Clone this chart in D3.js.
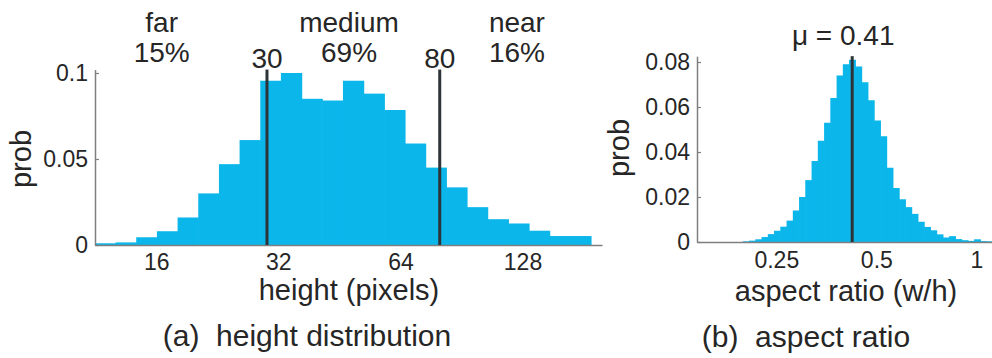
<!DOCTYPE html>
<html>
<head>
<meta charset="utf-8">
<script src="https://cdn.jsdelivr.net/npm/d3@7"></script>
<style>
  html, body { margin: 0; padding: 0; background: #ffffff; }
  svg { display: block; }
  text { font-family: "Liberation Sans", Arial, Helvetica, sans-serif; fill: #262626; }
</style>
</head>
<body>
<svg id="chart" width="992" height="358"></svg>
<script>
// ---------------- data: (a) height distribution ----------------
const heightBinEdges = [11.30, 12.70, 14.28, 16.06, 18.06, 20.31, 22.84, 25.68, 28.88, 32.47,
  36.52, 41.06, 46.18, 51.93, 58.40, 65.67, 73.84, 83.04, 93.38, 105.0,
  118.1, 132.8, 149.3, 167.9, 188.8];
const heightProb = [0.001, 0.0015, 0.0045, 0.008, 0.016, 0.030, 0.047, 0.061, 0.0955, 0.100,
  0.085, 0.084, 0.0955, 0.088, 0.0785, 0.059, 0.045, 0.0335, 0.022, 0.015,
  0.0125, 0.0083, 0.0052, 0.0052];
const heightTicks = [16, 32, 64, 128];
const heightTickLabels = ["16", "32", "64", "128"];
const heightYTicks = [0, 0.05, 0.1];
const heightYTickLabels = ["0", "0.05", "0.1"];
const heightCuts = [30, 80];
const heightCutLabels = ["30", "80"];
const groupNames = ["far", "medium", "near"];
const groupShares = ["15%", "69%", "16%"];
const groupCenters = [16.5, 47.8, 124];   // height value under which each group label sits

// ---------------- data: (b) aspect ratio ----------------
const aspectBinEdges = [0.1982, 0.2070, 0.2161, 0.2257, 0.2357, 0.2461, 0.2570, 0.2684, 0.2803, 0.2927,
  0.3056, 0.3192, 0.3333, 0.3481, 0.3635, 0.3796, 0.3964, 0.4139, 0.4323, 0.4514,
  0.4714, 0.4923, 0.5141, 0.5368, 0.5606, 0.5854, 0.6113, 0.6384, 0.6667, 0.6962,
  0.7270, 0.7592, 0.7928, 0.8279, 0.8646, 0.9029, 0.9428, 0.9846, 1.0282, 1.0737, 1.1212];
const aspectProb = [0.0003, 0.0006, 0.0012, 0.0022, 0.0035, 0.005, 0.0068, 0.0095, 0.014, 0.020,
  0.0275, 0.036, 0.045, 0.053, 0.064, 0.074, 0.079, 0.081, 0.078, 0.071,
  0.063, 0.054, 0.047, 0.033, 0.024, 0.019, 0.0155, 0.0125, 0.009, 0.0067,
  0.0052, 0.0034, 0.002, 0.0026, 0.0013, 0.0008, 0.0005, 0.0012, 0.0004, 0.0003];
const aspectTicks = [0.25, 0.5, 1];
const aspectTickLabels = ["0.25", "0.5", "1"];
const aspectYTicks = [0, 0.02, 0.04, 0.06, 0.08];
const aspectYTickLabels = ["0", "0.02", "0.04", "0.06", "0.08"];
const aspectMeanPos = 0.423;
const aspectMeanLabel = "\u03bc = 0.41";

// ---------------- styles ----------------
const BAR = "#0ab6ea";
const AXIS = "#7f7f7f";
const CUT = "#2e3338";
const FS_BIG = 29;
const FS_TOP = 28;
const FS_TICK = 23;

const svg = d3.select("#chart");

function panel(opt) {
  const g = svg.append("g");
  const x = d3.scaleLog().base(2).domain(opt.xDomain).range(opt.xRange);
  const y = d3.scaleLinear().domain(opt.yDomain).range(opt.yRange);

  // bars
  const bins = opt.values.map((v, i) => ({ x0: opt.edges[i], x1: opt.edges[i + 1], v }));
  g.append("g").selectAll("rect").data(bins).join("rect")
    .attr("x", d => x(d.x0))
    .attr("width", d => x(d.x1) - x(d.x0) + 0.6)
    .attr("y", d => y(d.v))
    .attr("height", d => y(0) - y(d.v))
    .attr("fill", BAR);

  // y axis
  const yAxis = d3.axisLeft(y).tickValues(opt.yTicks)
    .tickFormat((d, i) => opt.yTickLabels[i]).tickSize(-4).tickSizeOuter(0).tickPadding(7);
  const ya = g.append("g").attr("transform", `translate(${opt.xRange[0]},0)`).call(yAxis);
  ya.select(".domain").attr("stroke", AXIS).attr("stroke-width", 1.5);
  ya.selectAll(".tick line").attr("stroke", AXIS).attr("stroke-width", 1.2);
  ya.selectAll(".tick text").attr("font-size", FS_TICK).attr("fill", "#262626")
    .style("font-family", '"Liberation Sans", Arial, sans-serif');

  // x axis
  const xAxis = d3.axisBottom(x).tickValues(opt.xTicks)
    .tickFormat((d, i) => opt.xTickLabels[i]).tickSize(0).tickSizeOuter(0).tickPadding(opt.xPad);
  const xa = g.append("g").attr("transform", `translate(0,${y(0)})`).call(xAxis);
  xa.select(".domain").attr("stroke", AXIS).attr("stroke-width", 1.5);
  xa.selectAll(".tick text").attr("font-size", FS_TICK).attr("fill", "#262626")
    .style("font-family", '"Liberation Sans", Arial, sans-serif');

  // vertical marker lines
  g.append("g").selectAll("line").data(opt.cuts).join("line")
    .attr("x1", d => x(d)).attr("x2", d => x(d))
    .attr("y1", y(0)).attr("y2", y(opt.yDomain[1]))
    .attr("stroke", CUT).attr("stroke-width", 3);

  // y label
  g.append("text")
    .attr("transform", `translate(${opt.yLabelX},${opt.yLabelY}) rotate(-90)`)
    .attr("text-anchor", "middle").attr("font-size", FS_BIG).text("prob");

  // x label
  g.append("text").attr("x", opt.xLabelX).attr("y", opt.xLabelY)
    .attr("text-anchor", "middle").attr("font-size", FS_BIG).text(opt.xLabel);

  // caption
  g.append("text").attr("x", opt.capX).attr("y", opt.capY)
    .attr("text-anchor", "middle").attr("font-size", FS_BIG + 1)
    .attr("xml:space", "preserve").style("white-space", "pre").text(opt.caption);

  return { g, x, y };
}

// (a)
const A = panel({
  edges: heightBinEdges, values: heightProb,
  xDomain: [11.3, 201], xRange: [95, 602],
  yDomain: [0, 0.102], yRange: [245, 245 - 172 * 1.02],
  xTicks: heightTicks, xTickLabels: heightTickLabels,
  yTicks: heightYTicks, yTickLabels: heightYTickLabels,
  xPad: 9, cuts: heightCuts,
  yLabelX: 31, yLabelY: 159,
  xLabel: "height (pixels)", xLabelX: 349, xLabelY: 300,
  caption: "(a)  height distribution", capX: 307, capY: 346
});
A.g.append("g").selectAll("text").data(heightCuts).join("text")
  .attr("x", d => A.x(d)).attr("y", 68).attr("text-anchor", "middle")
  .attr("font-size", FS_TOP).text((d, i) => heightCutLabels[i]);
A.g.append("g").selectAll("text").data(groupNames).join("text")
  .attr("x", (d, i) => A.x(groupCenters[i])).attr("y", 32).attr("text-anchor", "middle")
  .attr("font-size", FS_TOP).text(d => d);
A.g.append("g").selectAll("text").data(groupShares).join("text")
  .attr("x", (d, i) => A.x(groupCenters[i])).attr("y", 62).attr("text-anchor", "middle")
  .attr("font-size", FS_TOP).text(d => d);

// (b)
const B = panel({
  edges: aspectBinEdges, values: aspectProb,
  xDomain: [0.1443, 1.13], xRange: [697, 994],
  yDomain: [0, 0.0826], yRange: [242, 242 - 180 / 0.08 * 0.0826],
  xTicks: aspectTicks, xTickLabels: aspectTickLabels,
  yTicks: aspectYTicks, yTickLabels: aspectYTickLabels,
  xPad: 10, cuts: [aspectMeanPos],
  yLabelX: 629, yLabelY: 148,
  xLabel: "aspect ratio (w/h)", xLabelX: 846, xLabelY: 301,
  caption: "(b)  aspect ratio", capX: 806, capY: 347
});
B.g.append("text").attr("x", B.x(aspectMeanPos) - 9).attr("y", 45)
  .attr("text-anchor", "middle").attr("font-size", FS_TOP).text(aspectMeanLabel);
</script>
</body>
</html>
